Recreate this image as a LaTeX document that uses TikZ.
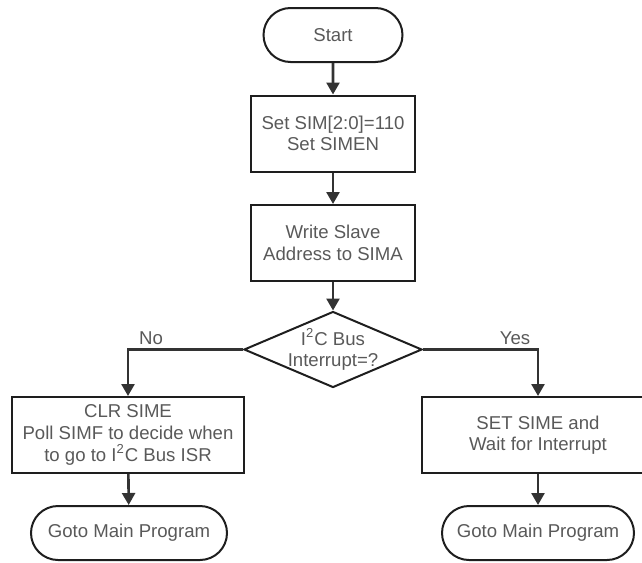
\documentclass[tikz,border=0pt]{standalone}
\usepackage{fontspec}
\setmainfont{Liberation Sans}
\usetikzlibrary{shapes.geometric,shapes.misc,arrows.meta}
\definecolor{edgegray}{HTML}{1E1E1E}
\definecolor{linegray}{HTML}{333333}
\definecolor{textgray}{HTML}{595959}
\begin{document}
\begin{tikzpicture}[x=0.5pt, y=-0.5pt, font=\fontsize{9.3}{10.8}\selectfont,
  box/.style={draw=edgegray, line width=1pt, rectangle, minimum width=82pt, minimum height=38pt, inner sep=0pt, align=center, text=textgray},
  term/.style={draw=edgegray, line width=1pt, rounded rectangle, minimum height=27pt, inner sep=0pt, text=textgray},
  dec/.style={draw=edgegray, line width=1pt, diamond, aspect=2.34, minimum width=89pt, minimum height=38pt, inner xsep=-3pt, inner ysep=0pt, align=center, text=textgray},
  flow/.style={draw=linegray, line width=1.3pt, -{Triangle[width=6.5pt,length=6pt]}},
  tag/.style={text=textgray, inner sep=2pt}]
  \useasboundingbox (0,0) rectangle (642,562);
  \clip (0,0) rectangle (642,562);
  \node[term, minimum width=69.5pt] (start) at (333,35) {Start};
  \node[box] (setsim) at (333,133.5) {Set SIM[2:0]=110\\Set SIMEN};
  \node[box] (wrsima) at (333,243) {Write Slave\\Address to SIMA};
  \node[dec] (irq) at (333,349.5) {I\textsuperscript{2}C Bus\\Interrupt=?};
  \node[box, minimum width=116pt] (clrsime) at (128,435) {CLR SIME\\Poll SIMF to decide when\\to go to I\textsuperscript{2}C Bus ISR};
  \node[box, minimum width=116pt] (setsime) at (538,435) {SET SIME and\\Wait for Interrupt};
  \node[term, minimum width=98pt] (mainl) at (129,533) {Goto Main Program};
  \node[term, minimum width=96pt] (mainr) at (538,533) {Goto Main Program};
  \draw[flow] (start) -- (setsim);
  \draw[flow] (setsim) -- (wrsima);
  \draw[flow] (wrsima) -- (irq);
  \draw[flow] (irq.west) -| node[tag, pos=0.4, above] (no) {No} (clrsime);
  \draw[flow] (irq.east) -| node[tag, pos=0.4, above] (yes) {Yes} (setsime);
  \draw[flow] (clrsime) -- (mainl);
  \draw[flow] (setsime) -- (mainr);
\end{tikzpicture}
\end{document}
